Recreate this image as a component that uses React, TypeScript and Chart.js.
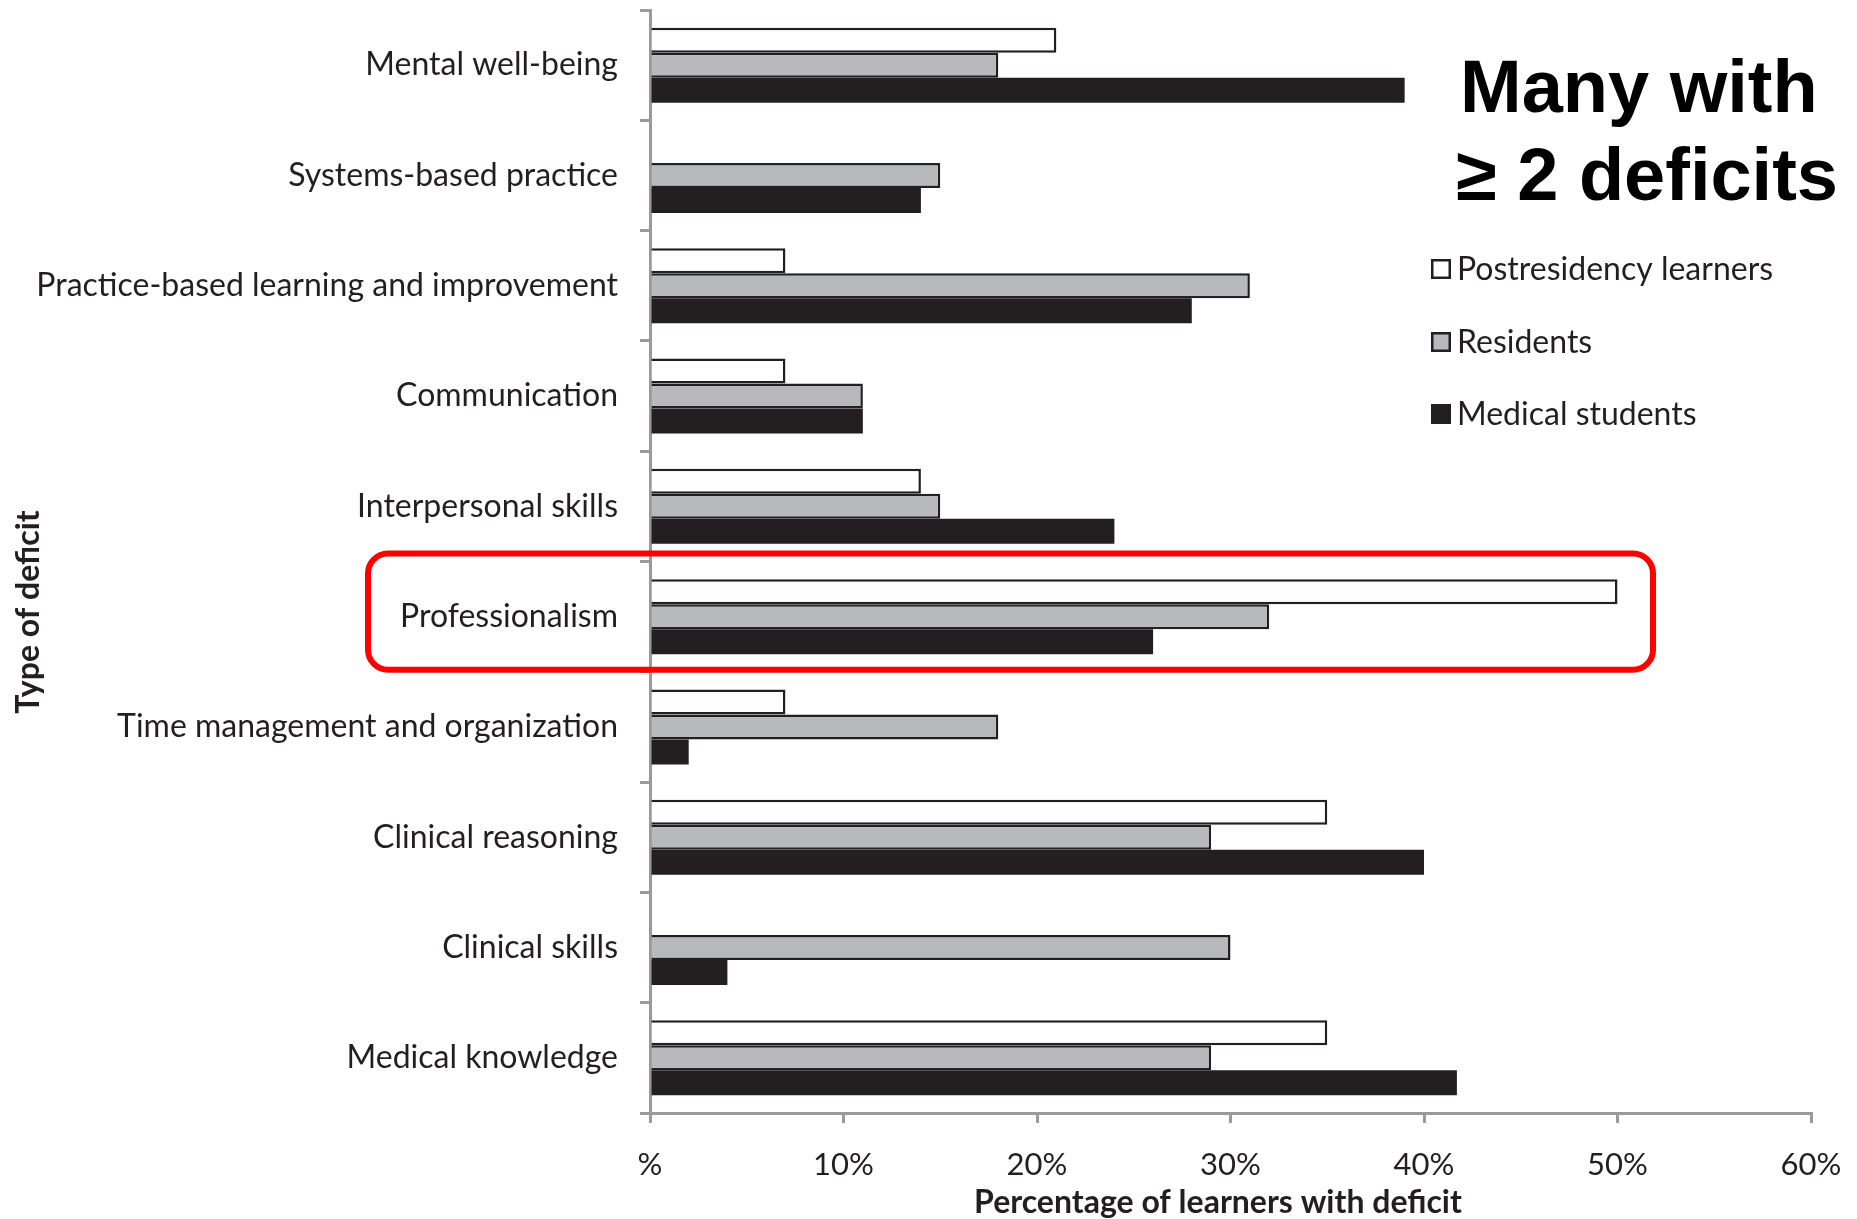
import React, { useEffect, useRef } from 'react';
import { Chart, registerables } from 'chart.js';

Chart.register(...registerables);

const categories = [
  'Mental well-being',
  'Systems-based practice',
  'Practice-based learning and improvement',
  'Communication',
  'Interpersonal skills',
  'Professionalism',
  'Time management and organization',
  'Clinical reasoning',
  'Clinical skills',
  'Medical knowledge',
];
const seriesLabels = ['Postresidency learners', 'Residents', 'Medical students'];
const postresidency = [21, 0, 7, 7, 14, 50, 7, 35, 0, 35];
const residents = [18, 15, 31, 11, 15, 32, 18, 29, 30, 29];
const students = [39, 14, 28, 11, 24, 26, 2, 40, 4, 41.7];
const xTicks = [0, 10, 20, 30, 40, 50, 60];
const xTickLabels = ['%', '10%', '20%', '30%', '40%', '50%', '60%'];
const highlightCategory = 'Professionalism';
const calloutLines = ['Many with', '≥ 2 deficits'];
const xTitle = 'Percentage of learners with deficit';
const yTitle = 'Type of deficit';

const INK = '#231f20';
const GRAY_FILL = '#b8b9bc';
const AXIS = '#9a9a9a';
const LABEL_FONT = 'Lato, "Open Sans", sans-serif';

export default function App() {
  const ref = useRef<HTMLCanvasElement | null>(null);

  useEffect(() => {
    const canvas = ref.current;
    if (!canvas) return;

    const overlay = {
      id: 'overlay',
      afterDraw(chart: any) {
        const ctx = chart.ctx as CanvasRenderingContext2D;
        const y = chart.scales.y;
        ctx.save();

        // highlight box around the chosen category
        const idx = categories.indexOf(highlightCategory);
        const step = y.getPixelForValue(1) - y.getPixelForValue(0);
        const cy = y.getPixelForValue(idx);
        const top = cy - step / 2 - 8;
        const bottom = cy + step / 2 - 2;
        const left = 368;
        const right = 1653;
        ctx.strokeStyle = '#ff0000';
        ctx.lineWidth = 6;
        ctx.beginPath();
        ctx.roundRect(left, top, right - left, bottom - top, 20);
        ctx.stroke();

        // callout text
        ctx.fillStyle = '#000';
        ctx.font = 'bold 74px "Liberation Sans", Arial, sans-serif';
        ctx.textAlign = 'left';
        ctx.textBaseline = 'alphabetic';
        ctx.fillText(calloutLines[0], 1460, 112);
        ctx.fillText(calloutLines[1], 1456, 200);

        // legend
        const ds = chart.data.datasets;
        const rows = [269, 342, 414];
        ctx.font = `32px ${LABEL_FONT}`;
        ctx.textBaseline = 'middle';
        ds.forEach((d: any, i: number) => {
          const ry = rows[i];
          ctx.fillStyle = d.backgroundColor;
          ctx.fillRect(1431, ry - 10, 20, 20);
          ctx.strokeStyle = INK;
          ctx.lineWidth = 2.5;
          ctx.strokeRect(1431 + 1.25, ry - 10 + 1.25, 17.5, 17.5);
          ctx.fillStyle = INK;
          ctx.fillText(d.label, 1457, ry + 1);
        });

        // axis titles
        ctx.fillStyle = INK;
        ctx.font = `bold 32px ${LABEL_FONT}`;
        ctx.textAlign = 'center';
        ctx.textBaseline = 'middle';
        ctx.fillText(xTitle, 1218, 1203);
        ctx.save();
        ctx.translate(29, 612);
        ctx.rotate(-Math.PI / 2);
        ctx.fillText(yTitle, 0, 0);
        ctx.restore();

        ctx.restore();
      },
    };

    const chart = new Chart(canvas, {
      type: 'bar',
      data: {
        labels: categories,
        datasets: [
          {
            label: seriesLabels[0],
            data: postresidency,
            backgroundColor: '#ffffff',
            borderColor: INK,
            borderWidth: 2.5,
          },
          {
            label: seriesLabels[1],
            data: residents,
            backgroundColor: GRAY_FILL,
            borderColor: INK,
            borderWidth: 2.5,
          },
          {
            label: seriesLabels[2],
            data: students,
            backgroundColor: INK,
            borderColor: INK,
            borderWidth: 0,
          },
        ],
      },
      plugins: [overlay],
      options: {
        indexAxis: 'y',
        responsive: false,
        animation: false,
        devicePixelRatio: 1,
        layout: { padding: { left: 0, right: 46, top: 10, bottom: 0 } },
        datasets: {
          bar: { categoryPercentage: 0.68, barPercentage: 1 },
        },
        plugins: {
          legend: { display: false },
          tooltip: { enabled: false },
          title: { display: false },
        },
        scales: {
          x: {
            type: 'linear',
            min: 0,
            max: 60,
            afterBuildTicks: (scale: any) => {
              scale.ticks = xTicks.map((v) => ({ value: v }));
            },
            afterFit: (scale: any) => {
              scale.height = 106;
              scale.paddingLeft = 0;
              scale.paddingRight = 0;
            },
            ticks: {
              callback: (v: any) => {
                const i = xTicks.indexOf(Number(v));
                return i >= 0 ? xTickLabels[i] : String(v);
              },
              color: INK,
              font: { family: LABEL_FONT, size: 31 },
              padding: 23,
              maxRotation: 0,
            },
            grid: {
              drawOnChartArea: false,
              drawTicks: true,
              tickLength: 10,
              color: AXIS,
              lineWidth: 3,
            },
            border: { color: AXIS, width: 3 },
          },
          y: {
            type: 'category',
            afterFit: (scale: any) => {
              scale.width = 650;
              scale.paddingTop = 0;
              scale.paddingBottom = 0;
            },
            ticks: {
              color: INK,
              font: { family: LABEL_FONT, size: 32 },
              padding: 22,
              autoSkip: false,
            },
            grid: {
              offset: true,
              drawOnChartArea: false,
              drawTicks: true,
              tickLength: 10,
              color: AXIS,
              lineWidth: 3,
            },
            border: { color: AXIS, width: 3 },
          },
        },
      },
    } as any);

    return () => chart.destroy();
  }, []);

  return (
    <div style={{ position: 'fixed', left: 0, top: 0, width: 1857, height: 1219, background: '#fff' }}>
      <canvas ref={ref} width={1857} height={1219} style={{ display: 'block' }} />
    </div>
  );
}
